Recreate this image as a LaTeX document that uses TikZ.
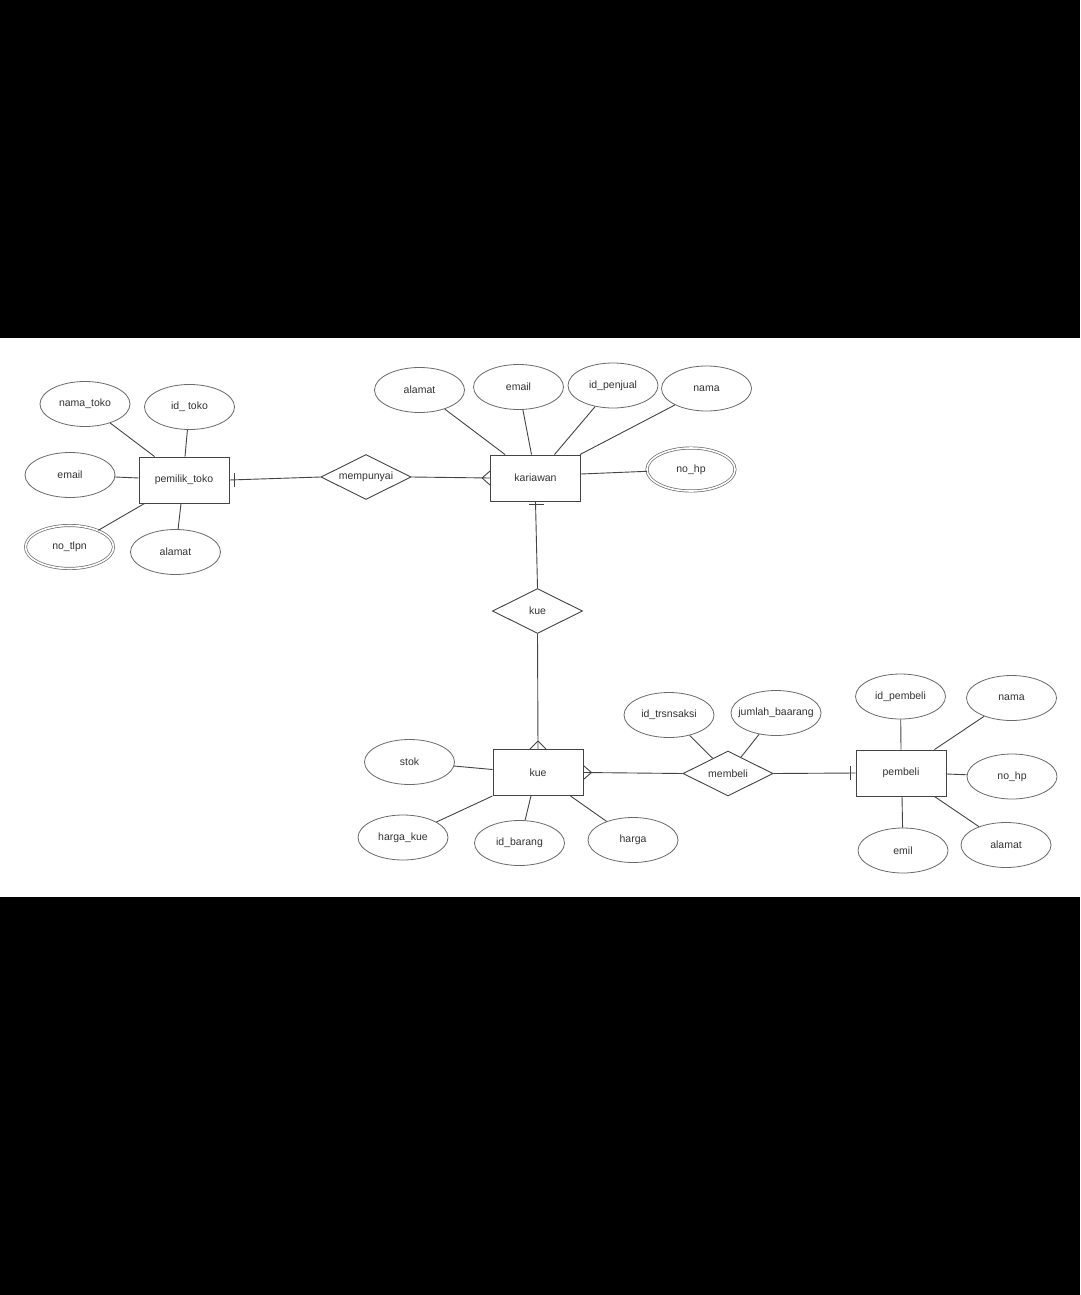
\documentclass[tikz,border=0pt]{standalone}
\usepackage{fontspec}
\setmainfont{Liberation Sans}
\usetikzlibrary{shapes.geometric,calc}
\newcommand\ctext[1]{\makebox[0pt]{#1}}
\definecolor{lnc}{HTML}{444444}
\definecolor{elc}{HTML}{6A6A6A}
\definecolor{txc}{HTML}{333333}
\tikzset{
  base/.style={font=\fontsize{10.5}{12}\selectfont, text=txc, inner sep=0pt},
  attr/.style={base, ellipse, draw=elc, line width=0.8pt, minimum width=90pt, minimum height=45pt},
  mattr/.style={attr, double=white, double distance=1.6pt, line width=0.7pt, minimum width=88pt, minimum height=43pt},
  ent/.style={base, rectangle, draw=lnc, line width=0.9pt, minimum width=90pt, minimum height=46pt},
  rel/.style={base, diamond, aspect=2, draw=lnc, line width=0.9pt, minimum width=90pt, minimum height=45pt},
  conn/.style={draw=lnc, line width=0.9pt},
}
\begin{document}
\begin{tikzpicture}[x=1pt,y=-1pt]
\useasboundingbox (0,0) rectangle (1080,1295);
\fill[black] (0,0) rectangle (1080,1295);
\fill[white] (0,338) rectangle (1080,897);

% pemilik_toko
\node[ent] (pt) at (184,480) {pemilik\_toko};
\node[attr] (ptnama) at (85,404) {\ctext{nama\_toko}};
\node[attr] (ptid) at (189.5,407) {\ctext{id\_ toko}};
\node[attr] (ptemail) at (70,475) {\ctext{email}};
\node[mattr] (pttlpn) at (69.5,547) {\ctext{no\_tlpn}};
\node[attr] (ptalamat) at (175.5,552) {\ctext{alamat}};
\draw[conn] (ptnama) -- ([xshift=16pt]pt.north west);
\draw[conn] (ptid) -- ([xshift=1pt]pt.north);
\draw[conn] (ptemail) -- ([yshift=2pt]pt.west);
\draw[conn] (pttlpn) -- ([xshift=6pt]pt.south west);
\draw[conn] (ptalamat) -- ([xshift=-3pt]pt.south);

% mempunyai
\node[rel] (mp) at (366,477) {\ctext{mempunyai}};

% kariawan
\node[ent] (kar) at (535.5,478) {kariawan};
\node[attr] (kalamat) at (419.5,390) {\ctext{alamat}};
\node[attr] (kemail) at (518.5,387) {\ctext{email}};
\node[attr] (kid) at (613,385.5) {\ctext{id\_penjual}};
\node[attr] (knama) at (706.5,388.5) {\ctext{nama}};
\node[mattr] (khp) at (691,469.5) {\ctext{no\_hp}};
\draw[conn] (kalamat) -- ([xshift=15pt]kar.north west);
\draw[conn] (kemail) -- ([xshift=-4pt]kar.north);
\draw[conn] (kid) -- ([xshift=19pt]kar.north);
\draw[conn] (knama) -- ([xshift=-1pt]kar.north east);
\draw[conn] (khp) -- ([yshift=4pt]kar.east);

% pemilik_toko -- mempunyai -- kariawan
\draw[conn] (pt.east) -- (mp.west);
\draw[conn] ([xshift=5pt,yshift=7pt]pt.east) -- ([xshift=5pt,yshift=-7pt]pt.east);
\draw[conn] (mp.east) -- (kar.west);
\draw[conn] ([xshift=-8pt]kar.west) -- ([yshift=7pt]kar.west);
\draw[conn] ([xshift=-8pt]kar.west) -- ([yshift=-7pt]kar.west);

% kue relationship
\node[rel] (kuer) at (537.5,611) {\ctext{kue}};
\draw[conn] (kar.south) -- (kuer.north);
\draw[conn] ([xshift=-7pt,yshift=-3pt]kar.south) -- ([xshift=8pt,yshift=-3pt]kar.south);

% kue entity
\node[ent] (kue) at (538,772.5) {kue};
\draw[conn] (kuer.south) -- (kue.north);
\draw[conn] ([yshift=8pt]kue.north) -- ([xshift=-8pt]kue.north);
\draw[conn] ([yshift=8pt]kue.north) -- ([xshift=8pt]kue.north);
\node[attr] (kstok) at (409.5,762) {\ctext{stok}};
\node[attr] (kharkue) at (403,837.5) {\ctext{harga\_kue}};
\node[attr] (kidb) at (519.5,843) {\ctext{id\_barang}};
\node[attr] (kharga) at (633,840) {\ctext{harga}};
\draw[conn] (kstok) -- ([yshift=3pt]kue.west);
\draw[conn] (kharkue) -- (kue.south west);
\draw[conn] (kidb) -- ([xshift=-7pt]kue.south);
\draw[conn] (kharga) -- ([xshift=-13pt]kue.south east);

% membeli
\node[rel] (mb) at (728,773.5) {\ctext{membeli}};
\node[attr] (mbid) at (669,715) {\ctext{id\_trsnsaksi}};
\node[attr] (mbjml) at (776,713) {\ctext{jumlah\_baarang}};
\draw[conn] (mbid) -- (mb);
\draw[conn] (mbjml) -- (mb);
\draw[conn] (kue.east) -- (mb.west);
\draw[conn] ([xshift=8pt]kue.east) -- ([yshift=7pt]kue.east);
\draw[conn] ([xshift=8pt]kue.east) -- ([yshift=-7pt]kue.east);

% pembeli
\node[ent] (pb) at (901,773) {pembeli};
\node[attr] (pbid) at (900.5,696.5) {\ctext{id\_pembeli}};
\node[attr] (pbnama) at (1011.5,698) {\ctext{nama}};
\node[attr] (pbhp) at (1012,776.5) {\ctext{no\_hp}};
\node[attr] (pbemil) at (903,850.5) {\ctext{emil}};
\node[attr] (pbalamat) at (1006,845) {\ctext{alamat}};
\draw[conn] (mb.east) -- (pb.west);
\draw[conn] ([xshift=-5pt,yshift=7pt]pb.west) -- ([xshift=-5pt,yshift=-7pt]pb.west);
\draw[conn] (pbid) -- (pb.north);
\draw[conn] (pbnama) -- ([xshift=-12pt]pb.north east);
\draw[conn] (pbhp) -- ([yshift=-1pt]pb.east);
\draw[conn] (pbemil) -- ([xshift=1pt]pb.south);
\draw[conn] (pbalamat) -- ([xshift=-12pt]pb.south east);
\end{tikzpicture}
\end{document}
